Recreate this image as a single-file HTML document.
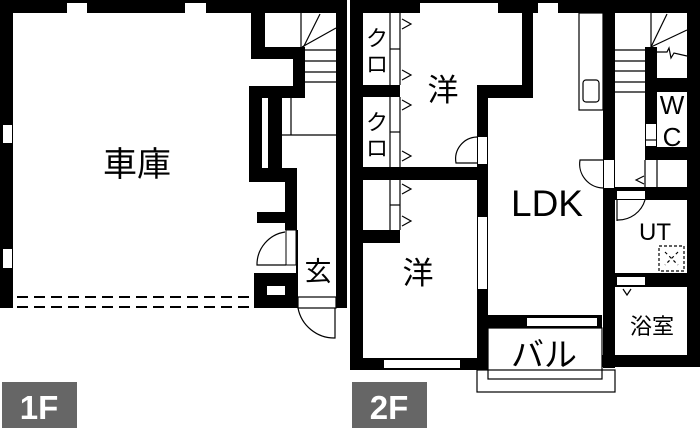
<!DOCTYPE html>
<html><head><meta charset="utf-8"><style>
html,body{margin:0;padding:0;background:#fff;width:700px;height:429px;overflow:hidden}
svg{display:block}
text{font-family:"Liberation Sans","Noto Sans CJK JP",sans-serif;fill:#000}
</style></head><body>
<svg width="700" height="429" viewBox="0 0 700 429" xmlns="http://www.w3.org/2000/svg">
<g fill="#000">
<rect x="0" y="0" width="347" height="13"/>
<rect x="0" y="0" width="13" height="308"/>
<rect x="336" y="0" width="11" height="308"/>
<rect x="67" y="3" width="20" height="10" fill="#fff"/>
<rect x="185" y="3" width="21" height="10" fill="#fff"/>
<rect x="3" y="125" width="9" height="18" fill="#fff"/>
<rect x="3" y="249" width="9" height="19" fill="#fff"/>
<rect x="251" y="13" width="14" height="46"/>
<rect x="251" y="47" width="54" height="12"/>
<rect x="293" y="47" width="12" height="51"/>
<rect x="249" y="86" width="56" height="12"/>
<rect x="249" y="86" width="33" height="96"/>
<rect x="262" y="98" width="6" height="70" fill="#fff"/>
<rect x="249" y="168" width="48" height="14"/>
<rect x="285" y="168" width="12" height="62"/>
<rect x="257" y="212" width="40" height="11"/>
<rect x="254" y="273" width="43" height="35"/>
<rect x="267" y="286" width="18" height="9" fill="#fff"/>
<rect x="296" y="230" width="2" height="78"/>
<rect x="286" y="230" width="10" height="35" fill="#fff" stroke="#000" stroke-width="1"/>
</g>
<g stroke="#000" stroke-width="1.2" fill="none">
<line x1="302" y1="61" x2="336" y2="61"/><line x1="302" y1="72" x2="336" y2="72"/><line x1="302" y1="82" x2="336" y2="82"/>
<line x1="302" y1="50" x2="320" y2="14"/><line x1="302" y1="47" x2="336" y2="28"/><line x1="302" y1="50" x2="336" y2="50"/>
<line x1="301" y1="13" x2="301" y2="47"/>
<line x1="282" y1="135" x2="336" y2="135"/><line x1="291" y1="98" x2="291" y2="135"/>
<line x1="17" y1="297" x2="253" y2="297" stroke-dasharray="11,6" stroke-width="2"/>
<line x1="17" y1="307" x2="253" y2="307" stroke-dasharray="11,6" stroke-width="2"/>
<path d="M285 232 A33 33 0 0 0 257 265 L286 265"/>
<rect x="298" y="297" width="38" height="11"/>
<path d="M298 308 A37 37 0 0 0 335 338 L335 308"/>
</g>
<text x="137" y="176" font-size="34" text-anchor="middle">車庫</text>
<text x="318" y="281" font-size="27" text-anchor="middle">玄</text>
<rect x="2" y="382" width="75" height="46" fill="#666"/>
<text x="39" y="419" font-size="33" font-weight="bold" text-anchor="middle" style="fill:#fff">1F</text>

<g fill="#000">
<rect x="350" y="0" width="350" height="13"/>
<rect x="350" y="0" width="13" height="370"/>
<rect x="687" y="0" width="13" height="367"/>
<rect x="350" y="358" width="138" height="12"/>
<rect x="602" y="355" width="98" height="12"/>
<rect x="420" y="3" width="78" height="10" fill="#fff"/>
<rect x="538" y="3" width="20" height="10" fill="#fff"/>
<rect x="384" y="360" width="76" height="8" fill="#fff"/>
<rect x="350" y="85" width="50" height="12"/>
<rect x="350" y="167" width="138" height="13"/>
<rect x="350" y="230" width="50" height="13"/>
<rect x="477" y="85" width="11" height="285"/>
<rect x="477" y="85" width="56" height="13"/>
<rect x="522" y="13" width="11" height="85"/>
<rect x="478" y="137" width="9" height="27" fill="#fff"/>
<rect x="478" y="217" width="9" height="72" fill="#fff"/>
<rect x="603" y="13" width="12" height="355"/>
<rect x="604" y="160" width="10" height="28" fill="#fff"/>
<rect x="488" y="315" width="114" height="13"/>
<rect x="527" y="318" width="70" height="8" fill="#fff"/>
<rect x="645" y="47" width="12" height="113"/>
<rect x="657" y="78" width="30" height="14"/>
<rect x="645" y="147" width="42" height="13"/>
<rect x="615" y="187" width="72" height="13"/>
<rect x="617" y="191" width="28" height="8" fill="#fff"/>
<rect x="615" y="273" width="72" height="14"/>
<rect x="617" y="277" width="28" height="8" fill="#fff"/>
<rect x="646" y="124" width="10" height="22" fill="#fff"/>
</g>
<g stroke="#000" stroke-width="1.2" fill="none">
<line x1="390" y1="13" x2="390" y2="85"/><line x1="400" y1="13" x2="400" y2="85"/><line x1="390" y1="49" x2="400" y2="49"/>
<line x1="390" y1="97" x2="390" y2="167"/><line x1="400" y1="97" x2="400" y2="167"/><line x1="390" y1="132" x2="400" y2="132"/>
<line x1="390" y1="180" x2="390" y2="230"/><line x1="400" y1="180" x2="400" y2="230"/><line x1="390" y1="205" x2="400" y2="205"/>
<path d="M402 19 L411 24 L402 29 M402 70 L411 75 L402 80 M402 100 L411 105 L402 110 M402 151 L411 156 L402 161 M402 184 L411 189 L402 194 M402 216 L411 221 L402 226"/>
<path d="M477 137 A22 22 0 0 0 456 163 L477 163"/>
<rect x="579" y="13" width="24" height="97"/>
<rect x="583" y="80" width="16" height="22" rx="3"/>
<path d="M604 160 L580 160 A24 24 0 0 0 604 188"/>
<line x1="615" y1="50" x2="645" y2="50"/><line x1="615" y1="61" x2="645" y2="61"/><line x1="615" y1="71" x2="645" y2="71"/><line x1="615" y1="82" x2="645" y2="82"/><line x1="615" y1="92" x2="645" y2="92"/>
<line x1="651" y1="13" x2="651" y2="47"/>
<line x1="651" y1="47" x2="667" y2="14"/><line x1="651" y1="47" x2="687" y2="30"/>
<path d="M657 52 L667 52 L669 48 L671 58 L674 53 L687 56"/>
<line x1="645" y1="140" x2="657" y2="140"/>
<line x1="645" y1="160" x2="645" y2="187"/><line x1="657" y1="160" x2="657" y2="187"/>
<path d="M644 176 L636 180 L644 184"/>
<path d="M617 220 A28 28 0 0 0 645 200 L645 200"/>
<line x1="617" y1="200" x2="617" y2="221"/>
<rect x="659" y="246" width="25" height="25" stroke-dasharray="3,2"/>
<path d="M665 252 L678 265 M678 252 L665 265" stroke-dasharray="3,3"/>
<path d="M623 289 L627 295 L631 289"/>
<rect x="488" y="328" width="114" height="51"/>
<rect x="477" y="370" width="138" height="22"/>
</g>
<g font-size="22">
<text x="377" y="46" text-anchor="middle">ク</text>
<text x="377" y="72" text-anchor="middle">ロ</text>
<text x="377" y="130" text-anchor="middle">ク</text>
<text x="377" y="156" text-anchor="middle">ロ</text>
</g>
<text x="443" y="101" font-size="31" text-anchor="middle">洋</text>
<text x="418" y="284" font-size="31" text-anchor="middle">洋</text>
<text x="547" y="216" font-size="37" text-anchor="middle">LDK</text>
<text x="544" y="366" font-size="33" text-anchor="middle">バル</text>
<text x="672" y="114" font-size="26" text-anchor="middle">W</text>
<text x="672" y="146" font-size="26" text-anchor="middle">C</text>
<text x="655" y="240" font-size="24" text-anchor="middle">UT</text>
<text x="652" y="334" font-size="22" text-anchor="middle">浴室</text>
<rect x="352" y="382" width="75" height="46" fill="#666"/>
<text x="389" y="419" font-size="33" font-weight="bold" text-anchor="middle" style="fill:#fff">2F</text>
</svg>
</body></html>
